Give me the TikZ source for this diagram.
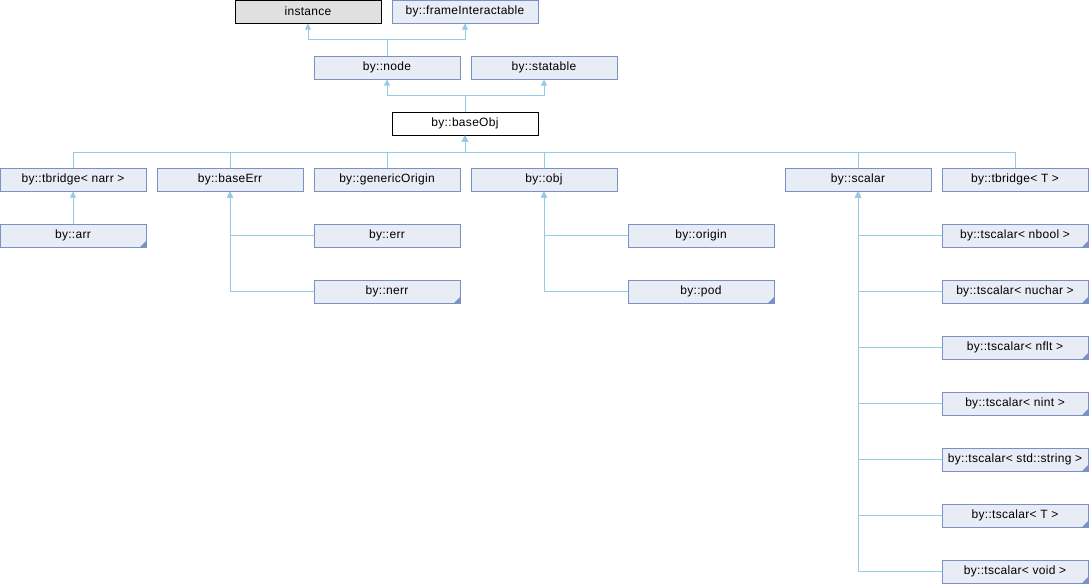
\documentclass[tikz,border=0pt]{standalone}
\usepackage{fontspec}
\setmainfont{Liberation Sans}[LetterSpace=2.5]
\usetikzlibrary{arrows.meta}
\definecolor{clsfill}{RGB}{232,236,245}
\definecolor{clsborder}{RGB}{122,145,200}
\definecolor{linec}{RGB}{150,202,230}
\definecolor{extfill}{RGB}{224,224,224}
\tikzset{
  cls/.style={draw=clsborder, fill=clsfill, line width=1pt, minimum width=146pt, minimum height=23pt, inner sep=0pt, font=\fontsize{12}{14}\selectfont},
  ext/.style={cls, draw=black, fill=extfill},
  cur/.style={cls, draw=black, fill=white},
  corner/.style={path picture={\fill[clsborder] (path picture bounding box.south east) -- ++(-6pt,0) -- ++(6pt,6pt) -- cycle;}},
  link/.style={draw=linec, line width=1pt},
  arr/.style={-{Triangle[width=6pt,length=6pt]}},
  rarr/.style={{Triangle[width=6pt,length=6pt]}-},
}
\begin{document}
\begin{tikzpicture}[x=1pt,y=-1pt]
\useasboundingbox (0,0) rectangle (1089,584);
% row 0
\node[ext] (inst) at (308,11.5) {instance};
\node[cls] (fi) at (465,11.5) {by::frameInteractable};
% row 1
\node[cls] (node) at (387,67.5) {by::node};
\node[cls] (stat) at (544,67.5) {by::statable};
% row 2
\node[cur] (base) at (465,123.5) {by::baseObj};
% row 3
\node[cls] (tbn) at (73,179.5) {by::tbridge< narr >};
\node[cls] (berr) at (230,179.5) {by::baseErr};
\node[cls] (gen) at (387,179.5) {by::genericOrigin};
\node[cls] (obj) at (544,179.5) {by::obj};
\node[cls] (scal) at (858,179.5) {by::scalar};
\node[cls] (tbt) at (1015,179.5) {by::tbridge< T >};
% row 4+
\node[cls,corner] (arr) at (73,235.5) {by::arr};
\node[cls] (err) at (387,235.5) {by::err};
\node[cls,corner] (nerr) at (387,291.5) {by::nerr};
\node[cls] (orig) at (701,235.5) {by::origin};
\node[cls,corner] (pod) at (701,291.5) {by::pod};
\node[cls,corner] (tsb) at (1015,235.5) {by::tscalar< nbool >};
\node[cls,corner] (tsu) at (1015,291.5) {by::tscalar< nuchar >};
\node[cls,corner] (tsf) at (1015,347.5) {by::tscalar< nflt >};
\node[cls,corner] (tsi) at (1015,403.5) {by::tscalar< nint >};
\node[cls,corner] (tss) at (1015,459.5) {by::tscalar< std::string >};
\node[cls,corner] (tst) at (1015,515.5) {by::tscalar< T >};
\node[cls,corner] (tsv) at (1015,571.5) {by::tscalar< void >};
% connectors
\draw[link,arr] (node.north) -- ++(0,-16) -| (inst.south);
\draw[link,arr] (node.north) -- ++(0,-16) -| (fi.south);
\draw[link,arr] (base.north) -- ++(0,-16) -| (node.south);
\draw[link,arr] (base.north) -- ++(0,-16) -| (stat.south);
\foreach \c in {tbn,berr,gen,obj,scal,tbt}
  \draw[link,rarr] (base.south) -- ++(0,17) -| (\c.north);
\draw[link,arr] (arr.north) -- (tbn.south);
\foreach \c in {err,nerr}
  \draw[link,rarr] (berr.south) |- (\c.west);
\foreach \c in {orig,pod}
  \draw[link,rarr] (obj.south) |- (\c.west);
\foreach \c in {tsb,tsu,tsf,tsi,tss,tst,tsv}
  \draw[link,rarr] (scal.south) |- (\c.west);
\end{tikzpicture}
\end{document}
